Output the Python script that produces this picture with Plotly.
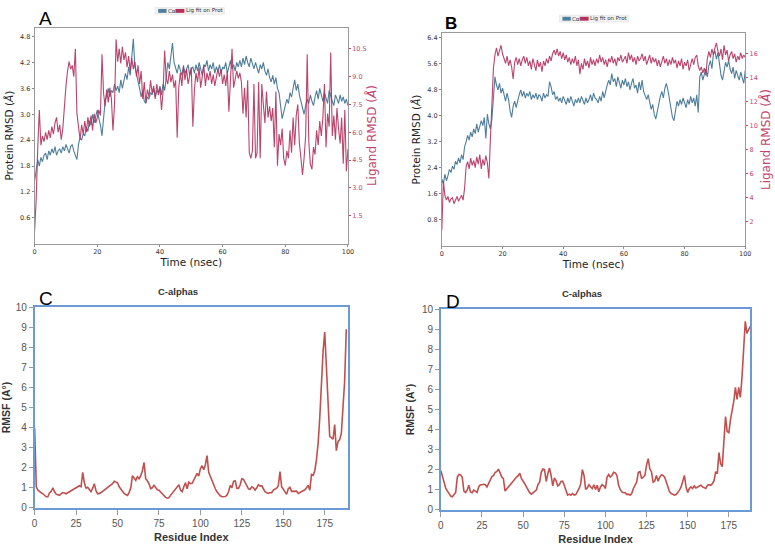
import plotly.graph_objects as go

# ---------------- data ----------------
time_ns = [i * 0.5 for i in range(201)]

protein_rmsd_A = [
    1.45, 1.75, 1.95, 1.80, 2.00, 1.90, 2.05, 2.10, 1.95, 2.15, 2.05,
    2.20, 2.10, 2.25, 2.05, 2.15, 2.20, 2.10, 2.25, 2.15, 2.30,
    2.20, 2.10, 2.25, 2.30, 2.15, 2.05, 1.95, 2.30, 2.45, 2.40,
    2.55, 2.50, 2.70, 2.60, 2.85, 2.75, 3.00, 2.80, 2.95, 3.10,
    2.90, 2.75, 2.50, 2.95, 3.30, 3.45, 3.60, 3.40, 3.55, 3.50,
    3.70, 3.55, 3.65, 3.50, 3.80, 3.60, 3.75, 3.95, 3.80, 4.10,
    3.90, 4.25, 4.75, 4.10, 3.95, 3.80, 3.60, 3.40, 3.55, 3.30,
    3.25, 3.40, 3.35, 3.50, 3.45, 3.60, 3.40, 3.55, 3.50, 3.65,
    3.45, 3.70, 3.55, 3.85, 4.20, 4.05, 4.30, 4.65, 4.20, 4.10,
    3.95, 4.15, 4.00, 3.90, 4.10, 3.95, 4.05, 4.15, 3.90, 4.05,
    4.10, 3.95, 4.15, 4.00, 4.20, 4.05, 3.90, 4.15, 4.10, 4.25,
    4.00, 4.15, 4.05, 4.20, 3.95, 4.10, 4.00, 4.15, 3.95, 4.10,
    4.05, 4.20, 3.95, 4.10, 4.25, 4.05, 4.15, 4.00, 4.20, 4.10,
    4.25, 4.10, 4.30, 4.15, 4.35, 4.20, 4.10, 4.30, 4.15, 4.05,
    4.20, 4.10, 3.95, 4.15, 4.05, 4.20, 4.00, 3.90, 4.05, 3.85,
    3.75, 3.90, 3.70, 3.85, 3.60, 3.50, 3.20, 2.90, 3.05, 3.20,
    3.35, 3.25, 3.50, 3.40, 3.65, 3.80, 3.55, 3.70, 3.45, 3.30,
    3.10, 3.00, 3.20, 3.35, 3.25, 3.45, 3.30, 3.20, 3.40, 3.55,
    3.35, 3.60, 3.45, 3.30, 3.50, 3.40, 3.25, 3.55, 3.40, 3.30,
    3.20, 3.45, 3.35, 3.25, 3.45, 3.30, 3.40, 3.25, 3.35, 3.20,
]

ligand_rmsd_A = [
    0.7, 2.4, 5.2, 7.2, 5.3, 5.8, 5.5, 6.0, 5.6, 6.1, 5.7,
    6.3, 5.9, 6.5, 6.8, 6.0, 6.4, 5.6, 6.2, 7.6, 8.5,
    9.3, 9.8, 9.4, 9.6, 9.0, 10.5, 7.0, 6.2, 5.6, 6.4,
    5.9, 6.6, 6.0, 6.8, 6.3, 6.9, 6.1, 7.0, 6.5, 6.8,
    7.2, 6.9, 10.2, 8.1, 7.4, 8.3, 7.6, 8.4, 7.8, 6.1,
    7.5, 11.0, 9.8, 10.5, 9.7, 10.6, 9.9, 10.3, 9.5, 10.1,
    9.3, 10.0, 9.4, 9.8, 9.0, 9.6, 8.6, 9.3, 7.8, 8.7,
    7.6, 8.3, 7.9, 8.8, 8.1, 8.5, 7.8, 8.6, 8.0, 8.4,
    7.2, 8.2, 10.4, 8.9, 8.6, 9.3, 8.7, 9.1, 8.4, 8.8,
    5.7, 8.4, 9.2, 8.5, 9.6, 8.8, 9.4, 8.6, 9.1, 9.5,
    6.3, 8.3, 9.2, 8.7, 9.5, 8.4, 9.0, 9.6, 8.5, 9.2,
    8.8, 9.3, 8.6, 9.1, 8.5, 8.9, 9.4, 9.0, 9.4, 8.6,
    9.1, 8.5, 9.3, 7.1, 8.6, 10.5, 8.4, 8.8, 9.3, 8.9,
    9.2, 8.7, 7.0, 8.4, 6.8, 8.8, 4.9, 4.6, 5.0, 8.6,
    4.6, 4.9, 8.7, 4.6, 8.6, 7.5, 6.5, 8.2, 6.8, 7.4,
    6.6, 7.3, 5.2, 8.2, 4.2, 5.9, 5.3, 6.2, 4.6, 4.2,
    5.0, 4.6, 6.1, 4.9, 6.8, 5.3, 6.9, 7.5, 5.4, 4.6,
    3.7, 4.6, 5.8, 10.2, 5.5, 4.3, 4.0, 5.2, 4.8, 6.1,
    5.3, 6.6, 5.8, 6.8, 8.6, 5.2, 7.0, 6.3, 10.3, 5.8,
    6.9, 5.6, 7.3, 6.2, 5.4, 6.8, 4.3, 7.2, 3.9, 5.1,
]

protein_rmsd_B = [
    2.05, 1.90, 2.20, 2.00, 2.15, 2.35, 2.25, 2.45, 2.35, 2.60, 2.50,
    2.70, 2.55, 2.80, 2.65, 3.05, 3.20, 3.40, 3.25, 3.50, 3.35,
    3.60, 3.45, 3.75, 3.50, 3.65, 3.85, 3.70, 3.95, 3.30, 4.05,
    3.75, 3.60, 3.90, 4.60, 5.20, 4.95, 4.80, 5.00, 4.70, 4.85,
    4.60, 4.45, 4.70, 4.50, 4.15, 3.95, 4.30, 4.45, 4.25, 4.50,
    4.65, 4.80, 4.60, 4.75, 4.55, 4.70, 4.60, 4.75, 4.50, 4.65,
    4.55, 4.70, 4.50, 4.65, 4.60, 4.45, 4.70, 4.55, 4.65, 4.60,
    5.05, 4.90, 4.65, 4.75, 4.50, 4.60, 4.45, 4.55, 4.40, 4.60,
    4.45, 4.35, 4.55, 4.40, 4.60, 4.45, 4.30, 4.50, 4.40, 4.55,
    4.40, 4.60, 4.45, 4.35, 4.55, 4.40, 4.50, 4.65, 4.45, 4.70,
    4.55, 4.50, 4.40, 4.60, 4.45, 4.75, 4.55, 4.80, 4.95, 5.10,
    4.95, 5.30, 5.05, 5.15, 4.90, 5.20, 5.00, 4.85, 5.10, 4.95,
    5.15, 4.90, 5.05, 4.80, 5.00, 5.15, 4.85, 4.95, 4.70, 5.05,
    4.80, 5.10, 4.75, 4.60, 4.50, 4.65, 4.40, 4.20, 4.35, 4.05,
    3.90, 4.15, 4.40, 4.60, 4.75, 4.55, 4.85, 5.00, 4.80, 4.50,
    4.30, 3.95, 3.85, 4.20, 4.45, 4.30, 4.50, 4.35, 4.55, 4.40,
    4.25, 4.50, 4.35, 4.60, 4.40, 4.55, 4.30, 4.65, 4.10, 5.20,
    5.35, 5.10, 5.30, 5.45, 5.20, 5.55, 5.70, 5.45, 5.90, 6.00,
    5.75, 5.95, 5.60, 5.25, 5.10, 5.40, 5.65, 5.50, 5.70, 5.45,
    5.30, 5.50, 5.15, 5.40, 5.25, 5.10, 5.35, 5.20, 5.00, 5.40,
]

ligand_rmsd_B = [
    1.3, 5.4, 4.2, 3.8, 4.1, 3.6, 3.9, 4.0, 3.5, 3.8, 4.1,
    3.7, 3.9, 4.2, 3.8, 4.8, 6.6, 7.0, 6.4, 7.3, 6.7,
    7.1, 6.5, 7.4, 6.8, 7.6, 6.4, 7.2, 6.7, 7.5, 6.9,
    5.6, 8.9, 12.0, 14.8, 15.9, 16.5, 15.8, 16.3, 16.7, 16.0,
    15.6, 15.2, 15.8, 15.0, 15.5, 14.9, 13.9, 15.3, 15.7, 15.1,
    15.6, 15.0, 15.5, 15.8, 15.2, 15.7, 15.0, 15.4, 14.7, 15.6,
    15.1, 14.6, 15.5, 14.9, 15.3, 14.5, 15.4, 15.0, 15.6, 15.2,
    15.8, 15.4, 16.0, 16.3, 15.9, 16.4, 15.8, 16.2, 15.6, 16.1,
    15.5, 15.9, 15.3, 15.7, 15.1, 15.6, 15.2, 15.8, 15.0, 15.5,
    14.3, 15.2, 14.7, 15.6, 15.0, 15.4, 14.8, 15.7, 15.1, 15.5,
    15.0, 15.6, 15.2, 15.9, 15.3, 15.7, 15.1, 15.5, 14.9, 15.6,
    15.3, 15.8, 15.2, 15.6, 15.0, 15.7, 15.4, 15.9, 15.3, 15.6,
    15.8, 15.2, 16.1, 15.5, 15.9, 15.3, 15.7, 15.1, 15.8, 15.4,
    15.6, 16.0, 15.4, 15.8, 15.1, 15.5, 15.9, 15.2, 15.7, 15.3,
    15.6, 15.0, 15.5, 14.9, 15.4, 15.8, 15.2, 15.6, 15.0, 15.5,
    15.1, 15.7, 15.2, 15.5, 14.8, 15.4, 15.0, 15.6, 14.7, 15.3,
    15.0, 15.5, 14.6, 15.2, 15.6, 15.1, 15.7, 15.9, 15.0, 14.6,
    14.9, 14.4, 14.8, 14.2, 15.6, 16.2, 15.7, 16.4, 15.9, 16.5,
    16.9, 16.2, 15.8, 16.4, 15.5, 16.7, 15.9, 16.3, 15.4, 15.9,
    16.2, 15.6, 16.0, 15.3, 15.8, 15.5, 16.1, 15.6, 15.9, 15.7,
]

residue_index = list(range(189))

rmsf_C = [
    3.97, 1.05, 0.88, 0.80, 0.75, 0.70, 0.62, 0.55, 0.55, 0.75,
    0.82, 1.00, 0.80, 0.68, 0.65, 0.62, 0.70, 0.76, 0.74, 0.70,
    0.75, 0.82, 0.85, 0.90, 0.95, 1.00, 1.05, 1.10, 1.05, 1.77,
    1.25, 0.98, 1.02, 0.88, 0.80, 0.98, 1.20, 0.85, 0.70, 0.72,
    0.75, 0.82, 0.88, 0.95, 1.00, 1.08, 1.12, 1.20, 1.32, 1.28,
    1.25, 1.05, 0.92, 0.82, 0.72, 0.66, 0.62, 0.76, 1.00, 1.60,
    1.45, 1.37, 1.55, 1.45, 1.60, 1.85, 2.26, 1.45, 1.35, 1.20,
    0.96, 1.00, 1.12, 1.00, 0.90, 0.88, 0.78, 0.68, 0.58, 0.52,
    0.48, 0.50, 0.62, 0.72, 0.82, 0.92, 1.02, 1.15, 0.88, 0.80,
    1.05, 1.25, 0.95, 1.28, 1.20, 1.22, 1.38, 1.53, 1.72, 1.58,
    1.95, 2.10, 1.90, 2.15, 2.60, 1.77, 1.55, 1.35, 1.15, 0.95,
    0.80, 0.68, 0.60, 0.55, 0.55, 0.56, 0.63, 0.80, 1.12, 1.00,
    1.32, 1.35, 0.98, 0.97, 1.15, 1.45, 1.42, 1.28, 1.15, 0.95,
    0.92, 1.05, 1.00, 0.88, 1.00, 1.15, 1.08, 1.10, 0.95, 0.80,
    0.75, 0.72, 0.76, 0.75, 0.88, 0.92, 0.98, 1.10, 1.80, 1.05,
    0.90, 0.80, 0.67, 0.95, 1.02, 0.82, 0.82, 0.80, 0.83, 0.72,
    0.76, 0.82, 0.88, 0.90, 1.00, 1.12, 0.88, 1.66, 1.62, 1.85,
    2.40, 3.20, 4.50, 6.20, 7.80, 8.76, 7.10, 5.00, 3.55, 3.50,
    3.42, 4.15, 2.85, 3.30, 3.40, 3.70, 5.00, 6.30, 8.90,
]

rmsf_D = [
    1.95, 1.63, 1.30, 1.06, 0.93, 0.78, 0.68, 0.65, 0.73, 0.86,
    1.63, 1.76, 1.74, 1.62, 0.93, 0.86, 0.98, 1.22, 0.89, 0.85,
    0.98, 0.93, 0.86, 1.14, 1.25, 1.25, 1.27, 1.25, 1.14, 1.30,
    1.50, 1.66, 1.70, 1.87, 1.90, 2.03, 1.84, 1.63, 1.55, 0.93,
    1.03, 1.14, 1.22, 1.33, 1.46, 1.58, 1.63, 1.70, 1.82, 1.55,
    1.45, 1.30, 1.14, 0.98, 0.85, 0.78, 0.86, 0.89, 0.98, 1.25,
    1.38, 1.87, 2.03, 2.00, 1.41, 1.79, 2.08, 1.71, 1.19, 1.58,
    1.46, 1.19, 1.25, 1.41, 1.43, 1.22, 0.98, 0.73, 0.78, 0.73,
    0.81, 0.73, 0.76, 0.89, 1.06, 1.30, 2.00, 1.71, 1.02, 1.09,
    1.25, 1.14, 1.06, 1.25, 1.01, 1.22, 0.90, 1.14, 1.25, 1.19,
    1.06, 1.63, 1.76, 1.63, 1.71, 1.87, 1.84, 1.71, 1.22, 1.02,
    0.89, 0.85, 0.86, 0.76, 0.78, 0.73, 0.81, 1.06, 1.25, 1.38,
    1.87, 1.90, 1.55, 1.63, 1.71, 2.23, 2.55, 2.03, 1.90, 1.38,
    1.43, 1.71, 1.43, 1.63, 1.74, 1.71, 1.63, 1.38, 1.09, 0.89,
    0.81, 0.78, 0.73, 0.76, 0.85, 0.98, 1.14, 1.38, 1.71, 1.14,
    0.86, 1.06, 1.14, 1.06, 1.19, 1.09, 1.14, 1.19, 1.22, 1.14,
    1.09, 1.06, 1.22, 1.25, 1.22, 1.30, 1.45, 1.90, 1.80, 2.85,
    2.30, 2.15, 3.40, 4.65, 3.90, 3.85, 4.50, 4.90, 5.40, 6.10,
    5.50, 6.10, 5.60, 6.60, 8.00, 9.40, 8.80, 9.00, 9.15,
]

# tick values
time_ticks = [0, 20, 40, 60, 80, 100]
protA_ticks = [0.6, 1.2, 1.8, 2.4, 3.0, 3.6, 4.2, 4.8]
ligA_ticks = [1.5, 3.0, 4.5, 6.0, 7.5, 9.0, 10.5]
protB_ticks = [0.8, 1.6, 2.4, 3.2, 4.0, 4.8, 5.6, 6.4]
ligB_ticks = [2, 4, 6, 8, 10, 12, 14, 16]
res_ticks = [0, 25, 50, 75, 100, 125, 150, 175]
rmsf_ticks = list(range(11))
series_names = ["Cα", "Lig fit on Prot"]

# ---------------- style ----------------
BLUE = "#4f7f9c"
RED = "#b3315c"
RED_TXT = "#c2456f"
RMSF_RED = "#c0504d"
FRAME_BLUE = "#6a9bd6"
W, H = 775, 550

fig = go.Figure()

# Panel A
fig.add_trace(go.Scatter(x=time_ns, y=protein_rmsd_A, mode="lines", name=series_names[0],
                         line=dict(color=BLUE, width=1.1), xaxis="x", yaxis="y", showlegend=False))
fig.add_trace(go.Scatter(x=time_ns, y=ligand_rmsd_A, mode="lines", name=series_names[1],
                         line=dict(color=RED, width=1.1), opacity=0.9, xaxis="x", yaxis="y2",
                         showlegend=False))
# Panel B
fig.add_trace(go.Scatter(x=time_ns, y=protein_rmsd_B, mode="lines", name=series_names[0],
                         line=dict(color=BLUE, width=1.1), xaxis="x2", yaxis="y3", showlegend=False))
fig.add_trace(go.Scatter(x=time_ns, y=ligand_rmsd_B, mode="lines", name=series_names[1],
                         line=dict(color=RED, width=1.1), opacity=0.9, xaxis="x2", yaxis="y4",
                         showlegend=False))
# Panel C, D
fig.add_trace(go.Scatter(x=residue_index, y=rmsf_C, mode="lines", showlegend=False,
                         line=dict(color=RMSF_RED, width=1.6), xaxis="x3", yaxis="y5"))
fig.add_trace(go.Scatter(x=residue_index, y=rmsf_D, mode="lines", showlegend=False,
                         line=dict(color=RMSF_RED, width=1.6), xaxis="x4", yaxis="y6"))

MPL_FONT = "DejaVu Sans"
XL_FONT = "Liberation Sans"

def px_x(a, b):
    return [a / W, b / W]

def px_y(top, bottom):
    return [1 - bottom / H, 1 - top / H]

rmsd_x = dict(range=[0, 100], tickvals=time_ticks, ticks="outside", ticklen=2,
              tickcolor="#888", linecolor="#999", linewidth=1, mirror=True,
              showgrid=False, zeroline=False, tickfont=dict(size=6.5, color="#333", family=MPL_FONT),
              title=dict(text="Time (nsec)", font=dict(size=10.5, color="#222", family=MPL_FONT), standoff=0))
rmsd_yl = dict(ticks="outside", ticklen=2, tickcolor="#888", linecolor="#999", linewidth=1,
               mirror=True, showgrid=False, zeroline=False, tickformat=".1f",
               tickfont=dict(size=6.5, color="#333", family=MPL_FONT))
rmsd_yr = dict(ticks="outside", ticklen=2, tickcolor=RED_TXT, showline=False,
               showgrid=False, zeroline=False,
               tickfont=dict(size=6.5, color=RED_TXT, family=MPL_FONT))

rmsf_x = dict(tickvals=res_ticks, ticks="outside", ticklen=5, tickcolor="#999",
              linecolor=FRAME_BLUE, linewidth=1.5, mirror=True, showgrid=False, zeroline=False,
              tickfont=dict(size=10, color="#555", family=XL_FONT),
              title=dict(text="<b>Residue Index</b>", font=dict(size=11, color="#333", family=XL_FONT), standoff=6))
rmsf_y = dict(range=[0, 10], tickvals=rmsf_ticks, ticks="outside", ticklen=4, tickcolor="#999",
              linecolor=FRAME_BLUE, linewidth=1.5, mirror=True, showgrid=False, zeroline=False,
              tickfont=dict(size=10, color="#555", family=XL_FONT),
              title=dict(text="<b>RMSF (A°)</b>", font=dict(size=10.5, color="#333", family=XL_FONT), standoff=5))

fig.update_layout(
    width=W, height=H, margin=dict(l=0, r=0, t=0, b=0),
    paper_bgcolor="white", plot_bgcolor="white",
    xaxis=dict(domain=px_x(32, 349), anchor="y", **rmsd_x),
    yaxis=dict(domain=px_y(22, 243), anchor="x", range=[0, 5.01], tickvals=protA_ticks,
               title=dict(text="Protein RMSD (<i>Å</i>)", font=dict(size=10.5, color="#222", family=MPL_FONT), standoff=4),
               **rmsd_yl),
    yaxis2=dict(overlaying="y", side="right", anchor="x", range=[0, 11.64], tickvals=ligA_ticks,
                tickformat=".1f",
                title=dict(text="Ligand RMSD (<i>Å</i>)", font=dict(size=12, color=RED_TXT, family=MPL_FONT), standoff=1),
                **rmsd_yr),
    xaxis2=dict(domain=px_x(444, 751), anchor="y3", **rmsd_x),
    yaxis3=dict(domain=px_y(28, 245), anchor="x2", range=[0, 6.54], tickvals=protB_ticks,
                title=dict(text="Protein RMSD (<i>Å</i>)", font=dict(size=10.5, color="#222", family=MPL_FONT), standoff=4),
                **rmsd_yl),
    yaxis4=dict(overlaying="y3", side="right", anchor="x2", range=[0, 17.7], tickvals=ligB_ticks,
                title=dict(text="Ligand RMSD (<i>Å</i>)", font=dict(size=12, color=RED_TXT, family=MPL_FONT), standoff=1),
                **rmsd_yr),
    xaxis3=dict(domain=px_x(32, 349), anchor="y5", range=[0, 189], **rmsf_x),
    yaxis5=dict(domain=px_y(308, 513), anchor="x3", **rmsf_y),
    xaxis4=dict(domain=px_x(443, 756), anchor="y6", range=[0, 188], **rmsf_x),
    yaxis6=dict(domain=px_y(310, 515), anchor="x4", **rmsf_y),
    showlegend=False,
)

# compact legends (Desmond style: colour patches + labels)
def add_legend(x0, yc):
    fig.add_shape(type="rect", xref="paper", yref="paper",
                  x0=(x0 - 3) / W, x1=(x0 + 67) / W, y0=1 - (yc + 3.5) / H, y1=1 - (yc - 3.5) / H,
                  fillcolor="#f2f2f2", line=dict(color="#dcdcdc", width=0.5), layer="above")
    fig.add_shape(type="rect", xref="paper", yref="paper",
                  x0=x0 / W, x1=(x0 + 8.5) / W, y0=1 - (yc + 2) / H, y1=1 - (yc - 2) / H,
                  fillcolor=BLUE, line=dict(width=0), layer="above")
    fig.add_annotation(xref="paper", yref="paper", x=(x0 + 8.5) / W, y=1 - yc / H, text=series_names[0],
                       showarrow=False, xanchor="left", yanchor="middle",
                       font=dict(size=5.5, family=MPL_FONT, color="#333"), borderpad=0)
    fig.add_shape(type="rect", xref="paper", yref="paper",
                  x0=(x0 + 17.5) / W, x1=(x0 + 26.5) / W, y0=1 - (yc + 2) / H, y1=1 - (yc - 2) / H,
                  fillcolor=RED, line=dict(width=0), layer="above")
    fig.add_annotation(xref="paper", yref="paper", x=(x0 + 27) / W, y=1 - yc / H, text=series_names[1],
                       showarrow=False, xanchor="left", yanchor="middle",
                       font=dict(size=5.5, family=MPL_FONT, color="#333"), borderpad=0)

add_legend(157, 5)
add_legend(566, 13)

annots = [
    dict(text="A", x=43 / W, y=1 - 13 / H, font=dict(size=19, color="black", family="Liberation Sans")),
    dict(text="<b>B</b>", x=453 / W, y=1 - 18 / H, font=dict(size=17, color="black", family="Liberation Sans")),
    dict(text="C", x=43 / W, y=1 - 299 / H, font=dict(size=19, color="black", family="Liberation Sans")),
    dict(text="D", x=455 / W, y=1 - 302 / H, font=dict(size=19, color="black", family="Liberation Sans")),
    dict(text="<b>C-alphas</b>", x=177 / W, y=1 - 292 / H, font=dict(size=9.5, color="#333", family=XL_FONT)),
    dict(text="<b>C-alphas</b>", x=586 / W, y=1 - 294 / H, font=dict(size=9.5, color="#333", family=XL_FONT)),
]
for a in annots:
    fig.add_annotation(xref="paper", yref="paper", showarrow=False, xanchor="center",
                       yanchor="middle", **a)

fig.write_html("out.html")
